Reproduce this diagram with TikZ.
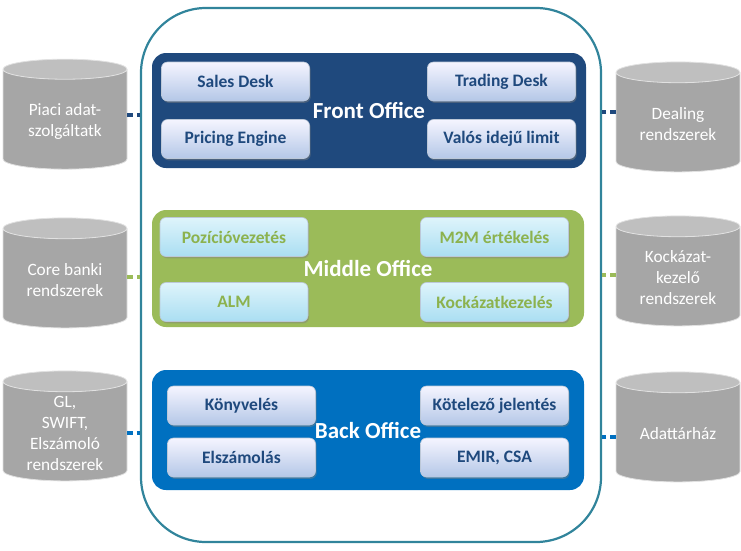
\documentclass[tikz,border=0pt]{standalone}
\usepackage{fontspec}
\setmainfont{Carlito}
\usetikzlibrary{shapes.geometric,shadows}

\definecolor{frameteal}{RGB}{49,132,155}
\definecolor{fonavy}{RGB}{31,73,125}
\definecolor{moolive}{RGB}{155,187,89}
\definecolor{motext}{RGB}{140,178,78}
\definecolor{boblue}{RGB}{0,112,192}
\definecolor{cylgray}{RGB}{166,166,166}
\definecolor{cyltop}{RGB}{191,191,191}
\definecolor{cyledge}{RGB}{225,225,225}

\tikzset{
  officepanel/.style={rounded corners=14pt, text=white,
    font=\fontsize{23}{27}\selectfont\bfseries},
  deskbox/.style={rounded corners=6pt, minimum width=148pt, minimum height=39pt,
    draw=white!70!fonavy, line width=0.6pt,
    font=\fontsize{17.5}{20}\selectfont\bfseries,
    drop shadow={shadow xshift=1.2pt, shadow yshift=-1.8pt, opacity=0.45}},
  fodesk/.style={deskbox, top color=blue!4!white, bottom color={rgb,255:red,180;green,199;blue,231}, text=fonavy},
  modesk/.style={deskbox, top color={rgb,255:red,222;green,244;blue,251}, bottom color={rgb,255:red,170;green,222;blue,242}, text=motext},
  bodesk/.style={deskbox, top color=blue!4!white, bottom color={rgb,255:red,180;green,199;blue,231}, text=fonavy},
  dbcyl/.style={cylinder, shape border rotate=90, aspect=0.25,
    minimum width=124pt, minimum height=110pt,
    cylinder uses custom fill, cylinder body fill=cylgray, cylinder end fill=cyltop,
    draw=cyledge, line width=0.8pt, text=white, align=center,
    font=\fontsize{17.3}{21}\selectfont},
  link/.style={line width=3.2pt, dash pattern=on 6pt off 3.5pt},
}

\begin{document}
\begin{tikzpicture}[x=1pt,y=-1pt]
  \useasboundingbox (0,0) rectangle (741,550);

  % outer frame
  \node[draw=frameteal, line width=2.2pt, rounded corners=65pt,
        minimum width=460pt, minimum height=534pt] (core) at (371,275) {};

  % office panels
  \node[officepanel, fill=fonavy, minimum width=434pt, minimum height=115pt] (fo) at (369,110.5) {Front Office};
  \node[officepanel, fill=moolive, minimum width=432pt, minimum height=117pt] (mo) at (368,268.5) {Middle Office};
  \node[officepanel, fill=boblue, minimum width=432pt, minimum height=120pt] (bo) at (368,430) {Back Office};

  % desks
  \node[fodesk] (sales)   at (235.5,81.5) {Sales Desk};
  \node[fodesk] (pricing) at (235.5,139)  {Pricing Engine};
  \node[fodesk] (trading) at (501.5,81.5) {Trading Desk};
  \node[fodesk] (limit)   at (501.5,139)  {Valós idejű limit};

  \node[modesk] (pozicio) at (234,237)   {Pozícióvezetés};
  \node[modesk] (alm)     at (234,302)   {ALM};
  \node[modesk] (mtm)     at (494.5,237) {M2M értékelés};
  \node[modesk] (kockmo)  at (494.5,302) {Kockázatkezelés};

  \node[bodesk] (konyv)   at (241.5,405.5) {Könyvelés};
  \node[bodesk] (elszam)  at (241.5,457.5) {Elszámolás};
  \node[bodesk] (kotelezo) at (494.5,405.5) {Kötelező jelentés};
  \node[bodesk] (emir)    at (494.5,457.5) {EMIR, CSA};

  % external systems
  \node[dbcyl] (piaci) at (65,121) {Piaci adat-\\szolgáltatk};
  \node[dbcyl] (coreb) at (65,280) {Core banki\\rendszerek};
  \node[dbcyl] (gl)    at (65,433) {GL,\\SWIFT,\\Elszámoló\\rendszerek};
  \node[dbcyl] (dealing) at (678,124) {Dealing\\rendszerek};
  \node[dbcyl] (kockext) at (678,278) {Kockázat-\\kezelő\\rendszerek};
  \node[dbcyl] (adatt)   at (678,434) {Adattárház};

  % links
  \draw[link, fonavy]  ([yshift=6pt]piaci.east) -- ([yshift=6pt]piaci.east -| core.west);
  \draw[link, moolive] ([yshift=3pt]coreb.east) -- ([yshift=3pt]coreb.east -| core.west);
  \draw[link, boblue]  (gl.east) -- (gl.east -| core.west);
  \draw[link, fonavy]  ([yshift=12pt]dealing.west) -- ([yshift=12pt]dealing.west -| core.east);
  \draw[link, moolive] ([yshift=3pt]kockext.west) -- ([yshift=3pt]kockext.west -| core.east);
  \draw[link, boblue]  ([yshift=-3pt]adatt.west) -- ([yshift=-3pt]adatt.west -| core.east);
\end{tikzpicture}
\end{document}
